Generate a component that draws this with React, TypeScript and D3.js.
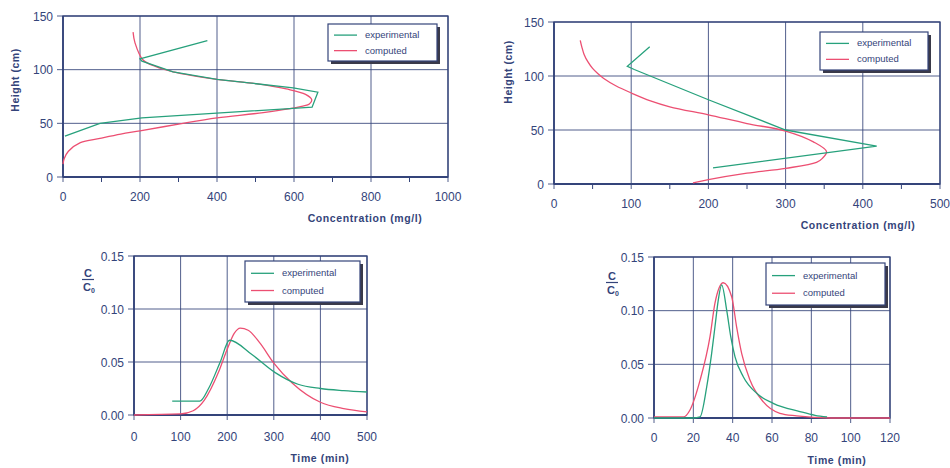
import React from "react";
import * as d3 from "d3";

const INK = "#34447a";
const GREEN = "#27a17c";
const RED = "#ec4f72";

// top-left: height profile (cm) vs concentration (mg/l)
const tlExperimental: [number, number][] = [
  [375, 127], [200, 110], [205, 108], [286, 98], [400, 91], [598, 83], [662, 79],
  [647, 65], [598, 64], [205, 55], [96, 50], [5, 38],
];
const tlComputed: [number, number][] = [
  [182, 135], [187, 125], [208, 109], [240, 103], [286, 98], [400, 91], [500, 87],
  [580, 82], [630, 77], [646, 72], [640, 68], [623, 66], [520, 60], [400, 55],
  [304, 49.5], [200, 43], [150, 40], [96, 36], [45, 32], [14, 24], [3, 17], [0, 12],
];

// top-right
const trExperimental: [number, number][] = [
  [124, 127], [95, 109], [104, 106], [200, 78], [300, 50], [418, 35], [206, 15],
];
const trComputed: [number, number][] = [
  [34, 133], [36, 127], [39, 120], [44, 113], [50, 107], [57, 102], [64, 98], [80, 91],
  [101, 84], [125, 77], [150, 71.5], [200, 64], [250, 56], [300, 49], [336, 39],
  [353, 30], [348, 24], [340, 20], [300, 14.5], [250, 10], [200, 4], [180, 1],
];

// bottom-left: C/C0 vs time (min)
const blExperimental: [number, number][] = [
  [82, 0.013], [141, 0.013], [160, 0.025], [185, 0.05], [205, 0.0705], [253, 0.057],
  [303, 0.04], [352, 0.029], [400, 0.025], [450, 0.023], [500, 0.0217],
];
const blComputed: [number, number][] = [
  [0, 0], [100, 0.001], [127, 0.004], [151, 0.014], [181, 0.04], [200, 0.062],
  [215, 0.077], [228, 0.082], [245, 0.08], [270, 0.068], [300, 0.049], [340, 0.03],
  [400, 0.012], [450, 0.006], [500, 0.003],
];

// bottom-right
const brExperimental: [number, number][] = [
  [0, 0], [20, 0], [23.4, 0.001], [26.8, 0.029], [29.3, 0.06], [31, 0.085], [32.7, 0.11],
  [34.4, 0.124], [37, 0.1], [39, 0.076], [41.2, 0.057], [45.4, 0.0385], [52.2, 0.023],
  [60.6, 0.0137], [74.2, 0.006], [81.9, 0.0025], [88, 0.001],
];
const brComputed: [number, number][] = [
  [0, 0.001], [15, 0.001], [18.3, 0.0075], [23.4, 0.035], [28.5, 0.076], [31, 0.107],
  [35.2, 0.126], [39.5, 0.113], [42, 0.085], [44.6, 0.06], [48.8, 0.0354],
  [55.6, 0.015], [64, 0.0044], [72.5, 0.002], [90, 0], [120, 0],
];

const concTicks1 = [0, 200, 400, 600, 800, 1000];
const concMinor1 = [100, 300, 500, 700, 900];
const concTicks2 = [0, 100, 200, 300, 400, 500];
const concMinor2 = [50, 150, 250, 350, 450];
const heightTicks = [0, 50, 100, 150];
const timeTicks1 = [0, 100, 200, 300, 400, 500];
const timeTicks2 = [0, 20, 40, 60, 80, 100, 120];
const ratioTicks = [0, 0.05, 0.1, 0.15];
const legendNames = ["experimental", "computed"];

type PanelProps = {
  x0: number; x1: number; y0: number; y1: number;
  xDomain: [number, number]; yDomain: [number, number];
  xTicks: number[]; xMinor: number[]; yTicks: number[];
  yFmt: (v: number) => string;
  exp: [number, number][]; comp: [number, number][];
  expCurve: d3.CurveFactory; compCurve: d3.CurveFactory;
  legend: [number, number, number, number];
  xTitle: string; xTitleX: number; xTitleY: number; xLabelY: number;
  yTitle: "height" | "ratio"; yTitleX: number; yTitleY: number;
};

const Panel = (p: PanelProps) => {
  const x = d3.scaleLinear().domain(p.xDomain).range([p.x0, p.x1]);
  const y = d3.scaleLinear().domain(p.yDomain).range([p.y0, p.y1]);
  const expLine = d3.line<[number, number]>().x(d => x(d[0])).y(d => y(d[1])).curve(p.expCurve);
  const compLine = d3.line<[number, number]>().x(d => x(d[0])).y(d => y(d[1])).curve(p.compCurve);
  const [lx0, ly0, lx1, ly1] = p.legend;
  return (
    <g>
      {p.xTicks.map(t => (
        <line key={"gx" + t} x1={x(t)} x2={x(t)} y1={p.y0 + 5} y2={p.y1} stroke={INK} strokeWidth={1} opacity={0.85} />
      ))}
      {p.xMinor.map(t => (
        <line key={"mx" + t} x1={x(t)} x2={x(t)} y1={p.y0} y2={p.y0 + 5} stroke={INK} strokeWidth={1} />
      ))}
      {p.yTicks.map(t => (
        <line key={"gy" + t} x1={p.x0 - 6} x2={p.x1} y1={y(t)} y2={y(t)} stroke={INK} strokeWidth={1} opacity={0.85} />
      ))}
      <rect x={p.x0} y={p.y1} width={p.x1 - p.x0} height={p.y0 - p.y1} fill="none" stroke={INK} strokeWidth={1.3} />
      <line x1={p.x0} x2={p.x1} y1={p.y0} y2={p.y0} stroke={INK} strokeWidth={2} />
      <line x1={p.x0} x2={p.x0} y1={p.y0} y2={p.y1} stroke={INK} strokeWidth={1.6} />
      {p.xTicks.map(t => (
        <text key={"lx" + t} x={x(t)} y={p.xLabelY} textAnchor="middle" fontSize={12} fill={INK}>{t}</text>
      ))}
      {p.yTicks.map(t => (
        <text key={"ly" + t} x={p.x0 - 10} y={y(t) + 4.5} textAnchor="end" fontSize={12} fill={INK}>{p.yFmt(t)}</text>
      ))}
      <path d={compLine(p.comp) || ""} fill="none" stroke={RED} strokeWidth={1.3} />
      <path d={expLine(p.exp) || ""} fill="none" stroke={GREEN} strokeWidth={1.3} />
      <rect x={lx0 + 3} y={ly0 + 3} width={lx1 - lx0} height={ly1 - ly0} fill="#3a3a4a" />
      <rect x={lx0} y={ly0} width={lx1 - lx0} height={ly1 - ly0} fill="#fff" stroke={INK} strokeWidth={1.2} />
      {legendNames.map((n, i) => {
        const yy = ly0 + (ly1 - ly0) * (i === 0 ? 0.3 : 0.72);
        return (
          <g key={n}>
            <line x1={lx0 + 6} x2={lx0 + 29} y1={yy} y2={yy} stroke={i === 0 ? GREEN : RED} strokeWidth={1.3} />
            <text x={lx0 + 37} y={yy + 3} fontSize={9.5} fill={INK}>{n}</text>
          </g>
        );
      })}
      <text x={p.xTitleX} y={p.xTitleY} textAnchor="middle" fontSize={10.5} fontWeight="bold" letterSpacing={0.6} fill={INK}>{p.xTitle}</text>
      {p.yTitle === "height" ? (
        <text transform={`translate(${p.yTitleX},${p.yTitleY}) rotate(-90)`} textAnchor="middle" fontSize={10.5} fontWeight="bold" letterSpacing={0.5} fill={INK}>Height (cm)</text>
      ) : (
        <g transform={`translate(${p.yTitleX},${p.yTitleY})`} fill={INK} fontWeight="bold">
          <text x={0} y={-4} textAnchor="middle" fontSize={11}>C</text>
          <line x1={-6} x2={6} y1={-1.5} y2={-1.5} stroke={INK} strokeWidth={1.2} />
          <text x={-1} y={10} textAnchor="middle" fontSize={11}>C</text>
          <text x={5} y={12} textAnchor="middle" fontSize={7}>0</text>
        </g>
      )}
    </g>
  );
};

const fmtInt = (v: number) => String(v);
const fmtRatio = (v: number) => v.toFixed(2);
const smooth = d3.curveCatmullRom.alpha(0.5);

export default function App() {
  return (
    <svg width={950} height={468} style={{ position: "absolute", left: 0, top: 0, background: "#fff" }}
      fontFamily="'Liberation Sans', Arial, sans-serif">
      <Panel x0={63} x1={448} y0={177} y1={16} xDomain={[0, 1000]} yDomain={[0, 150]}
        xTicks={concTicks1} xMinor={concMinor1} yTicks={heightTicks} yFmt={fmtInt}
        exp={tlExperimental} comp={tlComputed} expCurve={d3.curveLinear} compCurve={smooth}
        legend={[328, 24, 437, 61]} xTitle="Concentration (mg/l)" xTitleX={365} xTitleY={222} xLabelY={201}
        yTitle="height" yTitleX={19} yTitleY={80} />
      <Panel x0={554} x1={940} y0={184} y1={22} xDomain={[0, 500]} yDomain={[0, 150]}
        xTicks={concTicks2} xMinor={concMinor2} yTicks={heightTicks} yFmt={fmtInt}
        exp={trExperimental} comp={trComputed} expCurve={d3.curveLinear} compCurve={smooth}
        legend={[820, 32, 928, 70]} xTitle="Concentration (mg/l)" xTitleX={858} xTitleY={229} xLabelY={208}
        yTitle="height" yTitleX={512} yTitleY={72} />
      <Panel x0={134} x1={367} y0={415} y1={256} xDomain={[0, 500]} yDomain={[0, 0.15]}
        xTicks={timeTicks1} xMinor={[]} yTicks={ratioTicks} yFmt={fmtRatio}
        exp={blExperimental} comp={blComputed} expCurve={d3.curveMonotoneX} compCurve={d3.curveMonotoneX}
        legend={[245, 261, 360, 302]} xTitle="Time (min)" xTitleX={320} xTitleY={462} xLabelY={441}
        yTitle="ratio" yTitleX={88} yTitleY={281} />
      <Panel x0={654} x1={890} y0={418} y1={257} xDomain={[0, 120]} yDomain={[0, 0.15]}
        xTicks={timeTicks2} xMinor={[]} yTicks={ratioTicks} yFmt={fmtRatio}
        exp={brExperimental} comp={brComputed} expCurve={d3.curveMonotoneX} compCurve={d3.curveMonotoneX}
        legend={[766, 263, 885, 305]} xTitle="Time (min)" xTitleX={837} xTitleY={464} xLabelY={442}
        yTitle="ratio" yTitleX={612} yTitleY={284} />
    </svg>
  );
}
